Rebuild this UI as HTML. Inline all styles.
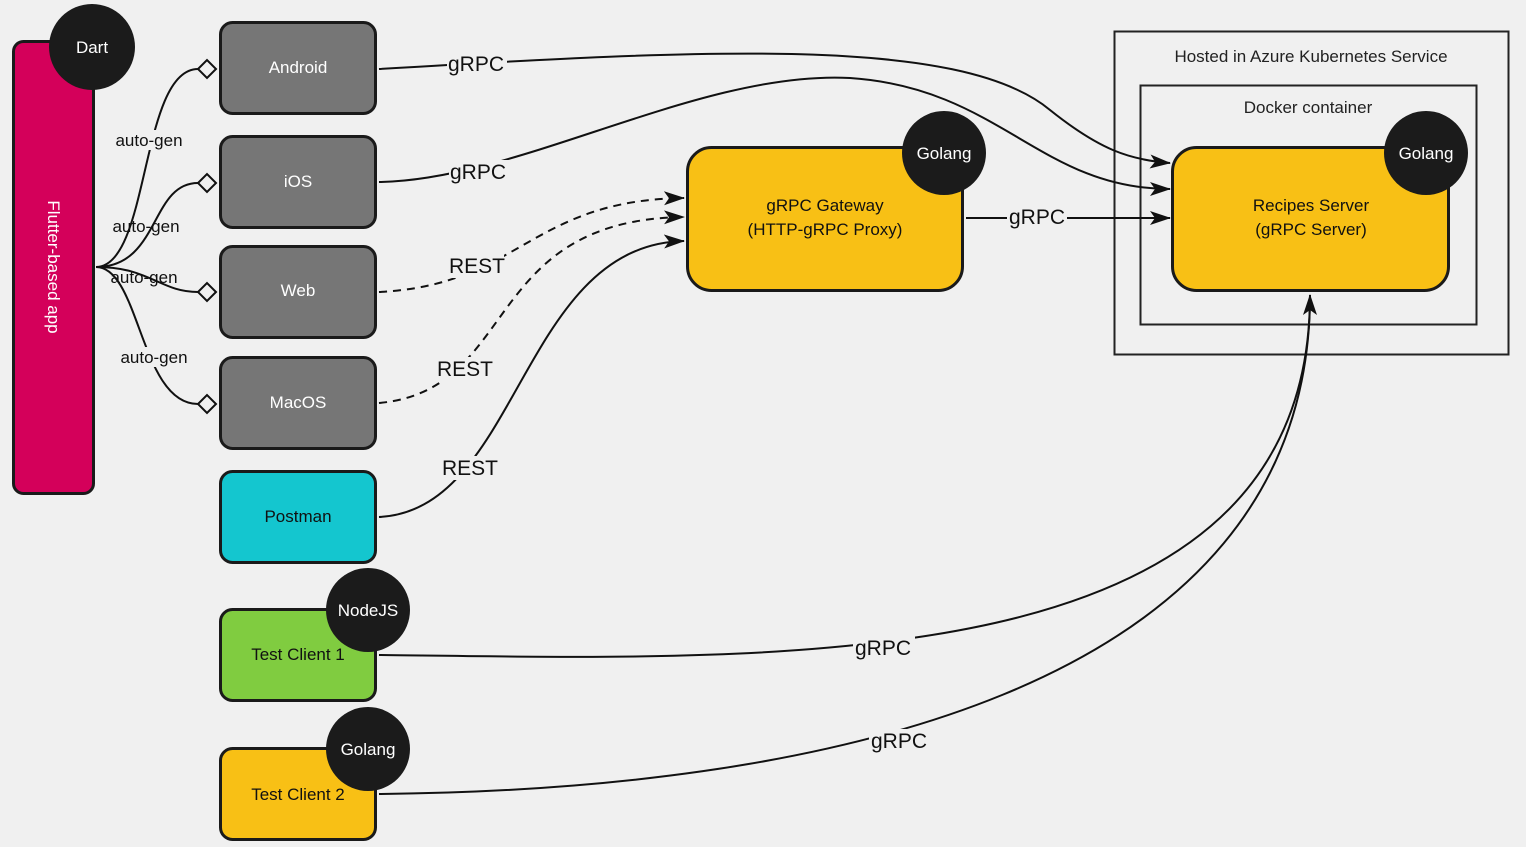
<!DOCTYPE html>
<html><head><meta charset="utf-8"><style>
html,body{margin:0;padding:0;background:#f0f0f0;}
svg{display:block;font-family:"Liberation Sans",sans-serif;}
</style></head><body>
<svg width="1526" height="847" viewBox="0 0 1526 847" xmlns="http://www.w3.org/2000/svg">
<defs>
<marker id="a" markerWidth="22" markerHeight="16" refX="20" refY="8" orient="auto" markerUnits="userSpaceOnUse">
<path d="M0,1 L21,8 L0,15 L5,8 Z" fill="#111"/></marker>
</defs>
<rect width="1526" height="847" fill="#f0f0f0"/>
<rect x="1114.5" y="31.5" width="394" height="323" fill="none" stroke="#222" stroke-width="2"/>
<rect x="1140.5" y="85.5" width="336" height="239" fill="none" stroke="#222" stroke-width="2"/>
<text x="1311" y="62" font-size="17" text-anchor="middle" fill="#222">Hosted in Azure Kubernetes Service</text>
<text x="1308" y="113" font-size="17" text-anchor="middle" fill="#222">Docker container</text>

<g fill="none" stroke="#111" stroke-width="2">
<path d="M96,267 C150,267 140,69 198,69"/>
<path d="M96,267 C160,267 150,183 198,183"/>
<path d="M96,267 C150,267 160,292 198,292"/>
<path d="M96,267 C140,267 140,404 198,404"/>
<path d="M379,69 C700,50 960,35 1050,110 C1100,150 1130,160 1170,163" marker-end="url(#a)"/>
<path d="M379,182 C520,180 700,70 850,78 C1000,88 1040,189 1170,189" marker-end="url(#a)"/>
<path d="M379,292 C520,285 530,200 684,198" stroke-dasharray="8,6" marker-end="url(#a)"/>
<path d="M379,403 C520,390 480,220 684,217" stroke-dasharray="8,6" marker-end="url(#a)"/>
<path d="M379,517 C520,510 520,245 684,241" marker-end="url(#a)"/>
<path d="M966,218 L1170,218" marker-end="url(#a)"/>
<path d="M379,655 C800,660 1310,680 1310,295" marker-end="url(#a)"/>
<path d="M379,794 C800,790 1310,700 1310,295"/>
</g>
<g fill="#f0f0f0" stroke="#111" stroke-width="2">
<path d="M198,69 L207,60 L216,69 L207,78 Z"/>
<path d="M198,183 L207,174 L216,183 L207,192 Z"/>
<path d="M198,292 L207,283 L216,292 L207,301 Z"/>
<path d="M198,404 L207,395 L216,404 L207,413 Z"/>
</g>
<g font-size="17" fill="#111" text-anchor="middle">
<rect x="112" y="130" width="74" height="20" fill="#f0f0f0"/><text x="149" y="146">auto-gen</text>
<text x="146" y="232">auto-gen</text>
<text x="144" y="283">auto-gen</text>
<rect x="116" y="347" width="76" height="20" fill="#f0f0f0"/><text x="154" y="363">auto-gen</text>
</g>
<g font-size="21" fill="#111" text-anchor="middle">
<rect x="447" y="52" width="60" height="24" fill="#f0f0f0"/><text x="476" y="71">gRPC</text>
<rect x="449" y="160" width="60" height="24" fill="#f0f0f0"/><text x="478" y="179">gRPC</text>
<rect x="450" y="254" width="54" height="24" fill="#f0f0f0"/><text x="477" y="273">REST</text>
<rect x="438" y="357" width="54" height="24" fill="#f0f0f0"/><text x="465" y="376">REST</text>
<rect x="443" y="456" width="54" height="24" fill="#f0f0f0"/><text x="470" y="475">REST</text>
<rect x="1007" y="205" width="60" height="24" fill="#f0f0f0"/><text x="1037" y="224">gRPC</text>
<rect x="853" y="636" width="62" height="24" fill="#f0f0f0"/><text x="883" y="655">gRPC</text>
<rect x="869" y="729" width="62" height="24" fill="#f0f0f0"/><text x="899" y="748">gRPC</text>
</g>

<rect x="13.5" y="41.5" width="80" height="452" rx="10" fill="#d4005a" stroke="#1a1a1a" stroke-width="3"/>
<text transform="translate(48,267) rotate(90)" font-size="17" fill="#fff" text-anchor="middle">Flutter-based app</text>
<circle cx="92" cy="47" r="43" fill="#1b1b1b"/>
<text x="92" y="53" font-size="17" fill="#fff" text-anchor="middle">Dart</text>

<g stroke="#1a1a1a" stroke-width="3">
<rect x="220.5" y="22.5" width="155" height="91" rx="12" fill="#767676"/>
<rect x="220.5" y="136.5" width="155" height="91" rx="12" fill="#767676"/>
<rect x="220.5" y="246.5" width="155" height="91" rx="12" fill="#767676"/>
<rect x="220.5" y="357.5" width="155" height="91" rx="12" fill="#767676"/>
<rect x="220.5" y="471.5" width="155" height="91" rx="12" fill="#14c6cf"/>
<rect x="220.5" y="609.5" width="155" height="91" rx="12" fill="#80cc40"/>
<rect x="220.5" y="748.5" width="155" height="91" rx="12" fill="#f8c015"/>
<rect x="687.5" y="147.5" width="275" height="143" rx="24" fill="#f8c015"/>
<rect x="1172.5" y="147.5" width="276" height="143" rx="24" fill="#f8c015"/>
</g>
<g font-size="17" text-anchor="middle">
<text x="298" y="73" fill="#fff">Android</text>
<text x="298" y="187" fill="#fff">iOS</text>
<text x="298" y="296" fill="#fff">Web</text>
<text x="298" y="408" fill="#fff">MacOS</text>
<text x="298" y="522" fill="#111">Postman</text>
<text x="298" y="660" fill="#111">Test Client 1</text>
<text x="298" y="800" fill="#111">Test Client 2</text>
<text x="825" y="211" fill="#111">gRPC Gateway</text>
<text x="825" y="235" fill="#111">(HTTP-gRPC Proxy)</text>
<text x="1311" y="211" fill="#111">Recipes Server</text>
<text x="1311" y="235" fill="#111">(gRPC Server)</text>
</g>
<g fill="#1b1b1b">
<circle cx="368" cy="610" r="42"/>
<circle cx="368" cy="749" r="42"/>
<circle cx="944" cy="153" r="42"/>
<circle cx="1426" cy="153" r="42"/>
</g>
<g font-size="17" fill="#fff" text-anchor="middle">
<text x="368" y="616">NodeJS</text>
<text x="368" y="755">Golang</text>
<text x="944" y="159">Golang</text>
<text x="1426" y="159">Golang</text>
</g>
</svg>
</body></html>
